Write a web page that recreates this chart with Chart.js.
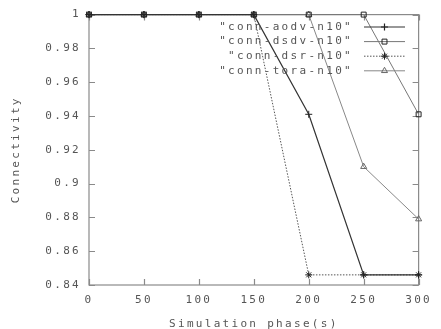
<!DOCTYPE html>
<html><head><meta charset="utf-8">
<script src="https://cdn.jsdelivr.net/npm/chart.js@4/dist/chart.umd.min.js"></script>
<style>html,body{margin:0;padding:0;background:#fff}#wrap{width:441px;height:329px}</style>
</head><body><div id="wrap"><canvas id="c" width="441" height="329"></canvas></div>
<script>
const phases = [0, 50, 100, 150, 200, 250, 300];
const seriesNames = ['"conn-aodv-n10"', '"conn-dsdv-n10"', '"conn-dsr-n10"', '"conn-tora-n10"'];
const aodv = [1, 1, 1, 1, 0.941, 0.846, 0.846];
const dsdv = [1, 1, 1, 1, 1, 1, 0.941];
const dsr  = [1, 1, 1, 1, 0.846, 0.846, 0.846];
const tora = [1, 1, 1, 1, 1, 0.910, 0.879];
const yTicks = ['0.84','0.86','0.88','0.9','0.92','0.94','0.96','0.98','1'];
const xTicks = ['0','50','100','150','200','250','300'];

const FONT = {family: '"DejaVu Sans Mono", monospace', size: 11};
const SP = '2.3px';
const TXT = '#555';
const AX = '#8a8a8a';

const styles = [
  {color:'#333', dash:[], point:'cross', w:1.2},
  {color:'#777', dash:[], point:'rect', w:1},
  {color:'#555', dash:[1.5,1.5], point:'star', w:1},
  {color:'#888', dash:[], point:'triangle', w:1}
];
const values = [aodv, dsdv, dsr, tora];

const datasets = values.map((v, i) => ({
  label: seriesNames[i],
  data: v.map((y, k) => ({x: phases[k], y})),
  borderColor: styles[i].color,
  backgroundColor: i === 2 ? '#222' : 'rgba(0,0,0,0)',
  borderWidth: styles[i].w,
  borderDash: styles[i].dash,
  pointStyle: styles[i].point,
  pointRadius: 3.5,
  pointBorderColor: i < 3 ? '#222' : '#666',
  pointBorderWidth: 1,
  tension: 0,
  clip: false
}));

const spacing = {
  id: 'spacing',
  beforeLayout(chart){ chart.ctx.letterSpacing = SP; },
  beforeDraw(chart){ chart.ctx.letterSpacing = SP; }
};

const frame = {
  id: 'frame',
  beforeDatasetsDraw(chart){
    const {ctx, chartArea:a, scales} = chart;
    ctx.save();
    ctx.strokeStyle = AX; ctx.lineWidth = 1.2;
    ctx.strokeRect(a.left, a.top, a.right - a.left, a.bottom - a.top);
    const L = 6;
    ctx.beginPath();
    yTicks.forEach(t => {
      const y = Math.round(scales.y.getPixelForValue(parseFloat(t))) + 0.5;
      ctx.moveTo(a.left, y); ctx.lineTo(a.left + L, y);
      ctx.moveTo(a.right, y); ctx.lineTo(a.right - L, y);
    });
    xTicks.forEach(t => {
      const x = Math.round(scales.x.getPixelForValue(parseFloat(t))) + 0.5;
      ctx.moveTo(x, a.bottom); ctx.lineTo(x, a.bottom - L);
      ctx.moveTo(x, a.top); ctx.lineTo(x, a.top + L);
    });
    ctx.stroke();
    ctx.restore();
  }
};

const legendBox = {
  id: 'legendBox',
  afterDatasetsDraw(chart){
    const ctx = chart.ctx;
    ctx.save();
    ctx.letterSpacing = SP;
    ctx.font = '11px "DejaVu Sans Mono", monospace';
    ctx.fillStyle = TXT;
    ctx.textAlign = 'right';
    ctx.textBaseline = 'middle';
    const x0 = 364, x1 = 405, tx = 353;
    chart.data.datasets.forEach((ds, i) => {
      const y = 27 + i * 14.6;
      ctx.fillText(ds.label, tx, y);
      ctx.save();
      ctx.strokeStyle = ds.borderColor; ctx.lineWidth = ds.borderWidth;
      ctx.setLineDash(ds.borderDash);
      ctx.beginPath(); ctx.moveTo(x0, y); ctx.lineTo(x1, y); ctx.stroke();
      ctx.setLineDash([]);
      ctx.strokeStyle = ds.pointBorderColor; ctx.fillStyle = ds.backgroundColor;
      Chart.helpers.drawPoint(ctx, {pointStyle: ds.pointStyle, radius: ds.pointRadius, borderWidth: 1}, (x0 + x1) / 2, y);
      ctx.restore();
    });
    ctx.restore();
  }
};

new Chart(document.getElementById('c'), {
  type: 'line',
  data: {datasets},
  options: {
    responsive: false,
    animation: false,
    devicePixelRatio: 1,
    layout: {padding: {left: 0, right: 17, top: 14, bottom: 0}},
    plugins: {legend: {display: false}, tooltip: {enabled: false}},
    scales: {
      x: {
        type: 'linear', min: 0, max: 300,
        afterBuildTicks(s){ s.ticks = xTicks.map(t => ({value: parseFloat(t)})); },
        ticks: {callback: (v, i) => xTicks[i], color: TXT, font: FONT, padding: 9, maxRotation: 0, autoSkip: false},
        grid: {display: false, drawTicks: false},
        border: {display: false},
        title: {display: true, text: 'Simulation phase(s)', color: TXT, font: FONT, padding: {top: 4, bottom: -2}},
        afterFit(s){ s.height = 44; }
      },
      y: {
        type: 'linear', min: 0.84, max: 1,
        afterBuildTicks(s){ s.ticks = yTicks.map(t => ({value: parseFloat(t)})); },
        ticks: {callback: (v, i) => yTicks[i], color: TXT, font: FONT, padding: 8, autoSkip: false},
        grid: {display: false, drawTicks: false},
        border: {display: false},
        title: {display: true, text: 'Connectivity', color: TXT, font: FONT, padding: {top: 10, bottom: 4}},
        afterFit(s){ s.width = 89; }
      }
    }
  },
  plugins: [spacing, frame, legendBox]
});
</script>
</body></html>
